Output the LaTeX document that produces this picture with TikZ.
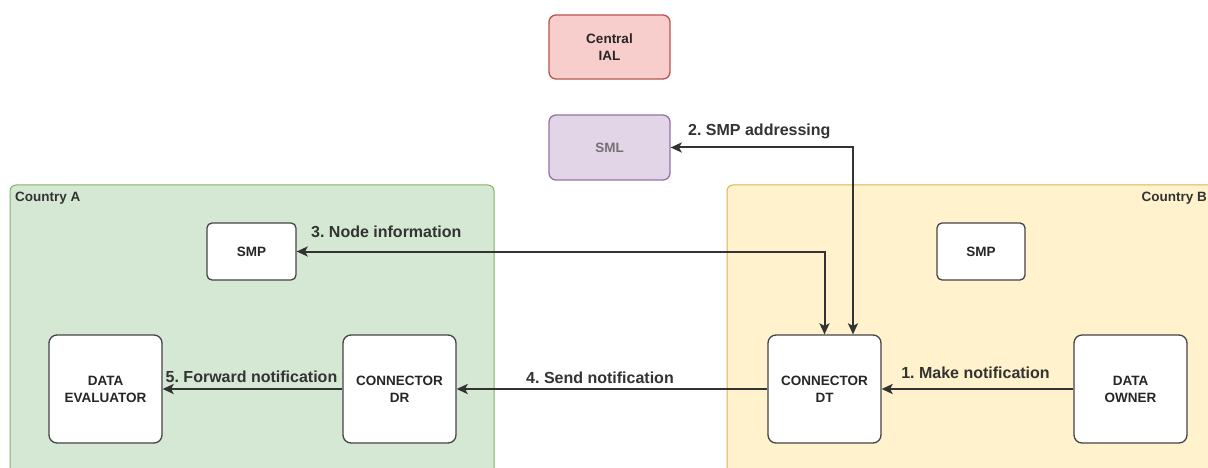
\documentclass[tikz,border=0pt]{standalone}
\usepackage{fontspec}
\setmainfont{Liberation Sans}
\usetikzlibrary{arrows.meta}
\frenchspacing
\definecolor{edgec}{HTML}{333333}
\definecolor{boxb}{HTML}{444444}
\definecolor{greenf}{HTML}{D5E8D4}
\definecolor{greenb}{HTML}{82B366}
\definecolor{yellowf}{HTML}{FFF2CC}
\definecolor{yellowb}{HTML}{D6B656}
\definecolor{redf}{HTML}{F8CECC}
\definecolor{redb}{HTML}{B85450}
\definecolor{purplef}{HTML}{E1D5E7}
\definecolor{purpleb}{HTML}{9673A6}
\tikzset{
  container/.style={draw, line width=1pt, rounded corners=6pt},
  whitebox/.style={draw=boxb, fill=white, line width=1.3pt, rounded corners=#1, align=center,
    font=\fontsize{13.5}{17}\selectfont\bfseries\frenchspacing, text=black!85, inner sep=0pt},
  whitebox/.default=8pt,
  conn/.style={draw=edgec, line width=2pt, {Stealth[length=11pt,width=10pt,inset=2.5pt]}-{Stealth[length=11pt,width=10pt,inset=2.5pt]}},
  oneway/.style={draw=edgec, line width=2pt, -{Stealth[length=11pt,width=10pt,inset=2.5pt]}},
  lbl/.style={font=\fontsize{16}{18}\selectfont\bfseries\frenchspacing, text=edgec, inner sep=0pt},
  ctitle/.style={font=\fontsize{13.5}{15}\selectfont\bfseries, text=edgec, inner sep=0pt},
}
\begin{document}
\begin{tikzpicture}[x=1pt,y=-1pt]
\useasboundingbox (0,0) rectangle (1208,468);
\clip (0,0) rectangle (1208,468);
\fill[white] (0,0) rectangle (1208,468);
% containers
\path[container, draw=greenb, fill=greenf] (10,185) rectangle (494,480);
\path[container, draw=yellowb, fill=yellowf] (727,185) rectangle (1230,480);
\node[ctitle, anchor=north west] (ca) at (15,192) {Country A};
\node[ctitle, anchor=north east] (cb) at (1207,192) {Country B};
% top nodes
\node[whitebox=7pt, draw=redb, fill=redf, minimum width=121pt, minimum height=64pt] (ial) at (609.5,47) {Central\\IAL};
\node[whitebox=7pt, draw=purpleb, fill=purplef, text=black!55, minimum width=121pt, minimum height=65pt] (sml) at (609.5,147.5) {SML};
% SMPs
\node[whitebox=5pt, minimum width=89pt, minimum height=57pt] (smpa) at (251.5,251.5) {SMP};
\node[whitebox=5pt, minimum width=88pt, minimum height=57pt] (smpb) at (981,251.5) {SMP};
% main boxes
\node[whitebox, minimum width=113pt, minimum height=108pt] (de) at (105.5,389) {DATA\\EVALUATOR};
\node[whitebox, minimum width=113pt, minimum height=108pt] (dr) at (399.5,389) {CONNECTOR\\DR};
\node[whitebox, minimum width=113pt, minimum height=108pt] (dt) at (824.5,389) {CONNECTOR\\DT};
\node[whitebox, minimum width=113pt, minimum height=108pt] (do) at (1130.5,389) {DATA\\OWNER};
% connectors
\coordinate (dtn2) at ([xshift=28.5pt]dt.north);
\draw[oneway] (do.west) -- (dt.east);
\draw[oneway] (dt.west) -- (dr.east);
\draw[oneway] (dr.west) -- (de.east);
\draw[conn] (smpa.east) -| (dt.north);
\draw[conn] (sml.east) -| (dtn2);
% labels
\node[lbl] (l1) at (975.5,373) {1. Make notification};
\node[lbl, anchor=west] (l2) at (688,131) {2. SMP addressing};
\node[lbl, anchor=west] (l3) at (311,232) {3. Node information};
\node[lbl] (l4) at (600,378) {4. Send notification};
\node[lbl] (l5) at (251.5,377) {5. Forward notification};
\end{tikzpicture}
\end{document}
